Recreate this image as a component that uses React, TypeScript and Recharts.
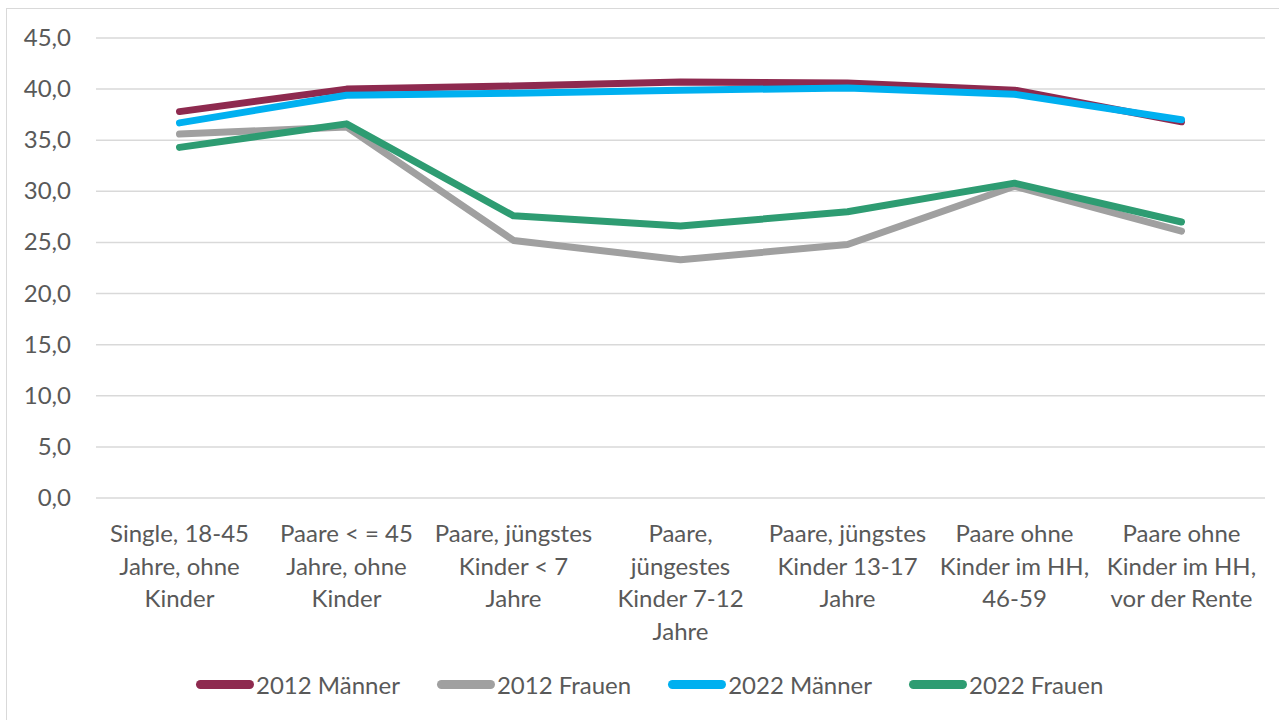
import React from 'react';
import { LineChart, Line, XAxis, YAxis, CartesianGrid, Legend } from 'recharts';

// x-axis labels, line breaks as in the original
const categories = [
  'Single, 18-45\nJahre, ohne\nKinder',
  'Paare < = 45\nJahre, ohne\nKinder',
  'Paare, jüngstes\nKinder < 7\nJahre',
  'Paare,\njüngestes\nKinder 7-12\nJahre',
  'Paare, jüngstes\nKinder 13-17\nJahre',
  'Paare ohne\nKinder im HH,\n46-59',
  'Paare ohne\nKinder im HH,\nvor der Rente',
];

const maenner2012 = [37.8, 40.0, 40.3, 40.7, 40.6, 39.9, 36.8];
const frauen2012 = [35.6, 36.3, 25.2, 23.3, 24.8, 30.5, 26.1];
const maenner2022 = [36.7, 39.4, 39.6, 39.9, 40.1, 39.5, 37.0];
const frauen2022 = [34.3, 36.6, 27.6, 26.6, 28.0, 30.8, 27.0];

const yTicks = [0, 5, 10, 15, 20, 25, 30, 35, 40, 45];

const series = [
  { key: 'm2012', name: '2012 Männer', color: '#8E2A4F' },
  { key: 'f2012', name: '2012 Frauen', color: '#A0A0A0' },
  { key: 'm2022', name: '2022 Männer', color: '#00B0F0' },
  { key: 'f2022', name: '2022 Frauen', color: '#2E9C72' },
];

const data = categories.map((cat, i) => ({
  cat,
  m2012: maenner2012[i],
  f2012: frauen2012[i],
  m2022: maenner2022[i],
  f2022: frauen2022[i],
}));

const FONT = 'Lato, sans-serif';
const TEXT = '#595959';

const XTick = ({ x, y, payload }: any) => {
  const lines = String(payload.value).split('\n');
  return (
    <g transform={`translate(${x},${y})`}>
      {lines.map((l, i) => (
        <text key={i} x={0} y={42 + i * 32.5} textAnchor="middle" fill={TEXT} fontSize={24} fontFamily={FONT}>
          {l}
        </text>
      ))}
    </g>
  );
};

const YTick = ({ x, y, payload }: any) => (
  <text x={x} y={y} dy={8} textAnchor="end" fill={TEXT} fontSize={24} fontFamily={FONT}>
    {Number(payload.value).toFixed(1).replace('.', ',')}
  </text>
);

const LegendContent = () => (
  <div style={{ display: 'flex', paddingLeft: 196, gap: 37, fontFamily: FONT, fontSize: 24, color: TEXT }}>
    {series.map((s) => (
      <div key={s.key} style={{ display: 'flex', alignItems: 'center', whiteSpace: 'nowrap' }}>
        <div style={{ width: 58, height: 9, borderRadius: 5, background: s.color, marginRight: 2 }} />
        <span>{s.name}</span>
      </div>
    ))}
  </div>
);

export default function App() {
  return (
    <div style={{ position: 'absolute', left: 0, top: 0, width: 1279, height: 720, overflow: 'hidden', background: '#fff' }}>
      <div style={{ position: 'absolute', left: 6, top: 8, width: 1300, height: 740, border: '1.5px solid #d9d9d9' }} />
      <LineChart width={1279} height={720} data={data} margin={{ top: 38, right: 14, left: 0, bottom: 0 }}>
        <CartesianGrid vertical={false} stroke="#d9d9d9" strokeWidth={1.5} />
        <XAxis
          dataKey="cat"
          interval={0}
          axisLine={false}
          tickLine={false}
          tickSize={0}
          height={222}
          padding={{ left: 83.5, right: 83.5 }}
          tick={<XTick />}
        />
        <YAxis
          width={96}
          domain={[0, 45]}
          ticks={yTicks}
          axisLine={false}
          tickLine={false}
          tickSize={0}
          tickMargin={25}
          tick={<YTick />}
        />
        <Legend
          layout="horizontal"
          verticalAlign="middle"
          content={<LegendContent />}
          wrapperStyle={{ top: 670, left: 0, width: 1279, height: 36 }}
        />
        {series.map((s) => (
          <Line
            key={s.key}
            type="linear"
            dataKey={s.key}
            name={s.name}
            stroke={s.color}
            strokeWidth={7}
            strokeLinecap="round"
            strokeLinejoin="round"
            dot={false}
            activeDot={false}
            isAnimationActive={false}
          />
        ))}
      </LineChart>
    </div>
  );
}
